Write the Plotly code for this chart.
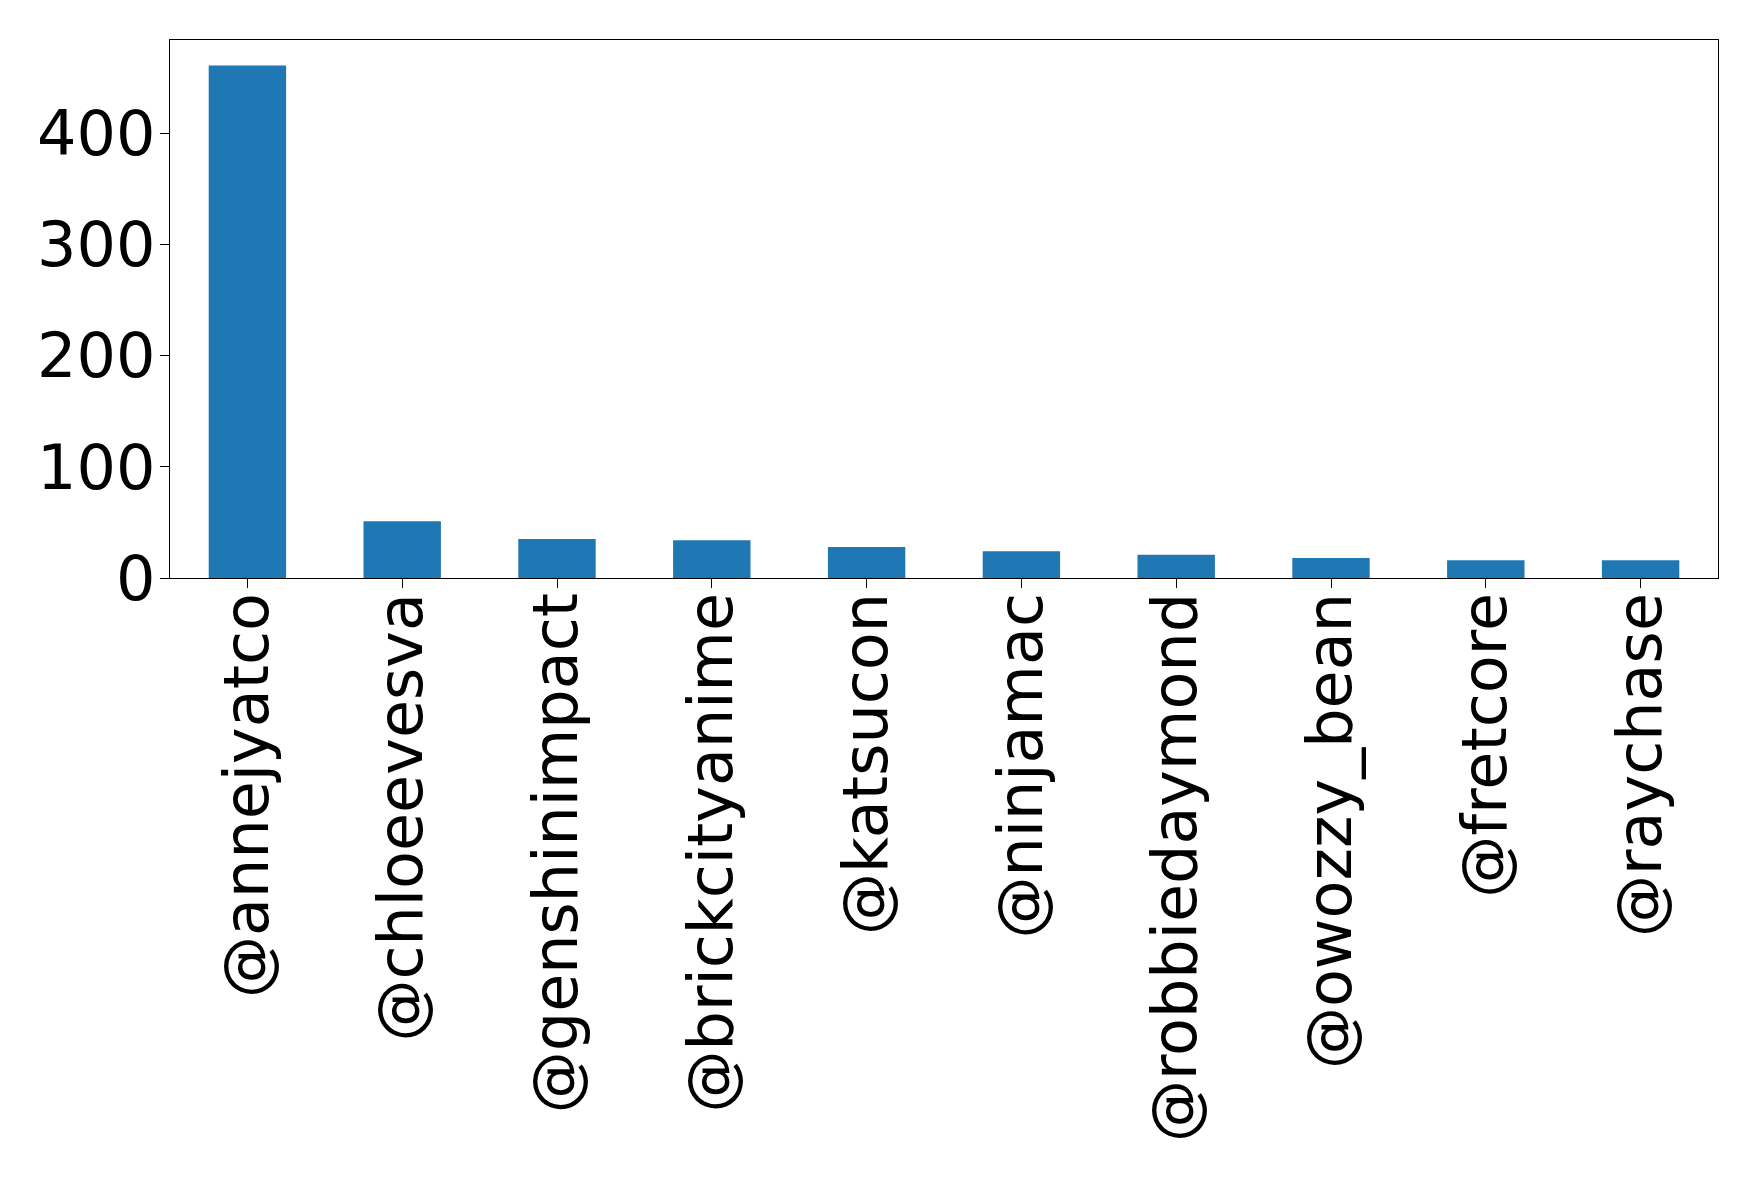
import plotly.graph_objects as go

handles = ["@annejyatco", "@chloeevesva", "@genshinimpact", "@brickcityanime",
           "@katsucon", "@ninjamac", "@robbiedaymond", "@owozzy_bean",
           "@fretcore", "@raychase"]
counts = [461, 51, 35, 34, 28, 24, 21, 18, 16, 16]
y_ticks = [0, 100, 200, 300, 400]

fig = go.Figure()
fig.add_trace(go.Bar(
    x=handles,
    y=counts,
    width=0.5,
    marker=dict(color="#1f77b4", line=dict(width=0)),
))

fig.update_layout(
    width=1759,
    height=1181,
    margin=dict(l=162, r=49, t=32, b=611),
    paper_bgcolor="white",
    plot_bgcolor="white",
    showlegend=False,
    font=dict(family="DejaVu Sans", size=62, color="black"),
)
fig.update_xaxes(
    range=[-0.5, 9.5],
    tickangle=-90,
    showline=True, linecolor="black", linewidth=1.3, mirror=True,
    ticks="outside", ticklen=9, tickwidth=1.3, tickcolor="black",
    showgrid=False, zeroline=False,
    ticklabelstandoff=-20,
)
fig.update_yaxes(
    range=[0, max(counts) * 1.05],
    tickvals=y_ticks,
    showline=True, linecolor="black", linewidth=1.3, mirror=True,
    ticks="outside", ticklen=9, tickwidth=1.3, tickcolor="black",
    showgrid=False, zeroline=False,
    ticklabelstandoff=-8,
)

fig.write_html("out.html")
